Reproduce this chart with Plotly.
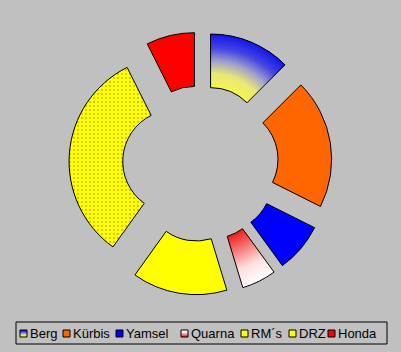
import plotly.graph_objects as go

# ---- data ----
categories = ["Berg", "Kürbis", "Yamsel", "Quarna", "RM´s", "DRZ", "Honda"]
values = [12.5, 19.9, 7.6, 5.3, 14.6, 32.7, 7.4]

# ---- styles ----
BG = "#C0C0C0"
solid_colors = ["#A8A8D0", "#FF6600", "#0000FF", "#F8A0A0", "#FFFF00", "#FFFF00", "#FF0000"]
patterns = ["", "", "", "", "", ".", ""]
HOLE = 0.49
PULL = 0.25
pulls = [PULL] * len(categories)
TRANSP = "rgba(0,0,0,0)"

W, H = 401, 352
TOP_M, BOT_M = 32, 57
PH = H - TOP_M - BOT_M


def px(x):
    return x / W


def py(y):
    return (H - BOT_M - y) / PH


def lerp(c1, c2, t):
    return tuple(round(a + (b - a) * t) for a, b in zip(c1, c2))


def multi(stops, t):
    n = len(stops) - 1
    k = min(int(t * n), n - 1)
    return lerp(stops[k], stops[k + 1], t * n - k)


# radial gradients (inner -> outer)
gradients = {
    "Berg": [(245, 245, 80), (232, 232, 120), (160, 160, 205), (70, 70, 225), (25, 25, 235)],
    "Quarna": [(240, 35, 35), (248, 130, 130), (255, 225, 225), (255, 252, 252)],
}

fig = go.Figure()

common = dict(labels=categories, values=values, sort=False, direction="clockwise",
              rotation=0, pull=pulls, textinfo="none", hoverinfo="skip",
              domain=dict(x=[0, 1], y=[0, 1]))

# base trace
fig.add_trace(go.Pie(
    **common, hole=HOLE, showlegend=False,
    marker=dict(colors=solid_colors, line=dict(width=0),
                pattern=dict(shape=patterns, fgcolor="black", bgcolor="#FFFF00",
                             size=4, solidity=0.1, fillmode="overlay")),
))

# gradient bands
N = 24
for k in range(N):
    t = k / (N - 1)
    h = HOLE + (1 - HOLE) * k / N
    cols = []
    for c in categories:
        if c in gradients:
            r, g, b = multi(gradients[c], t)
            cols.append(f"rgb({r},{g},{b})")
        else:
            cols.append(TRANSP)
    fig.add_trace(go.Pie(**common, hole=h, showlegend=False,
                         marker=dict(colors=cols, line=dict(width=0))))

# outlines
fig.add_trace(go.Pie(**common, hole=HOLE, showlegend=False,
                     marker=dict(colors=[TRANSP] * len(categories),
                                 line=dict(color="black", width=1))))

# ---- custom legend (box, swatches, labels) ----
legend_swatch_x = [20, 63, 116, 181, 241, 289, 328]
LEG_TOP, LEG_BOT, LEG_L, LEG_R = 322, 344, 16, 387
shapes = [dict(type="rect", xref="paper", yref="paper", x0=px(LEG_L), x1=px(LEG_R),
               y0=py(LEG_BOT), y1=py(LEG_TOP),
               line=dict(color="black", width=1), fillcolor=BG, layer="above")]
annotations = []
SW_TOP, SW_BOT, SW_W = 330, 337, 7
for i, c in enumerate(categories):
    x0 = legend_swatch_x[i]
    if c in gradients:
        steps = SW_BOT - SW_TOP
        for s in range(steps):
            tt = 1 - s / (steps - 1)
            r, g, b = multi(gradients[c], tt)
            shapes.append(dict(type="rect", xref="paper", yref="paper",
                               x0=px(x0), x1=px(x0 + SW_W),
                               y0=py(SW_TOP + s + 1), y1=py(SW_TOP + s),
                               line=dict(width=0), fillcolor=f"rgb({r},{g},{b})", layer="above"))
        shapes.append(dict(type="rect", xref="paper", yref="paper",
                           x0=px(x0), x1=px(x0 + SW_W), y0=py(SW_BOT), y1=py(SW_TOP),
                           line=dict(color="black", width=1), fillcolor=TRANSP, layer="above"))
    else:
        shapes.append(dict(type="rect", xref="paper", yref="paper",
                           x0=px(x0), x1=px(x0 + SW_W), y0=py(SW_BOT), y1=py(SW_TOP),
                           line=dict(color="black", width=1), fillcolor=solid_colors[i], layer="above"))
    annotations.append(dict(text=c, xref="paper", yref="paper", x=px(x0 + SW_W + 0.5),
                            y=py(333.5), xanchor="left", yanchor="middle", showarrow=False,
                            font=dict(family="Liberation Sans, Arial", size=13, color="black")))

fig.update_layout(
    width=W, height=H,
    margin=dict(l=0, r=0, t=TOP_M, b=BOT_M),
    paper_bgcolor=BG, plot_bgcolor=BG,
    showlegend=False,
    shapes=shapes, annotations=annotations,
)

fig.write_html("out.html")
